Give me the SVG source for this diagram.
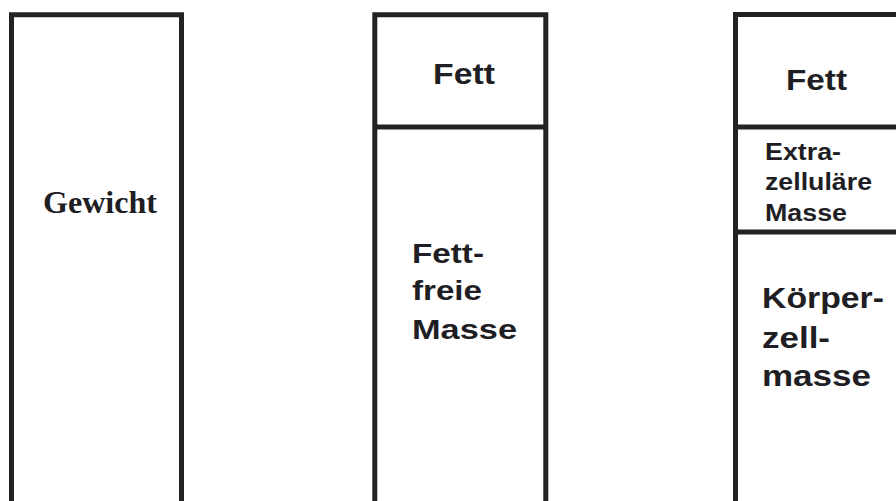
<svg xmlns="http://www.w3.org/2000/svg" width="896" height="501" viewBox="0 0 896 501">
<style>
.box{fill:none;stroke:#222;stroke-width:5;stroke-linejoin:miter}
.sans{font-family:"Liberation Sans",Arial,sans-serif;font-weight:bold;fill:#1e1e24}
.serif{font-family:"Liberation Serif","Times New Roman",serif;font-weight:bold;fill:#1e1e24}
</style>
<rect width="896" height="501" fill="#fff"/>
<g id="gewicht">
<path class="box" d="M11.5,510 V14.8 H181.5 V510"/>
<text class="serif" x="43" y="213" font-size="32" textLength="114" lengthAdjust="spacingAndGlyphs">Gewicht</text>
</g>
<g id="fett-fettfreie">
<path class="box" d="M374.8,510 V14.8 H545.8 V510"/>
<g id="fett1">
<text class="sans" x="433" y="83.5" font-size="30" textLength="62" lengthAdjust="spacingAndGlyphs">Fett</text>
</g>
<g id="fettfreie-masse">
<text class="sans" font-size="28">
<tspan x="412" y="263" textLength="72" lengthAdjust="spacingAndGlyphs">Fett-</tspan>
<tspan x="412" y="300" textLength="70" lengthAdjust="spacingAndGlyphs">freie</tspan>
<tspan x="412" y="339" textLength="105" lengthAdjust="spacingAndGlyphs">Masse</tspan>
</text>
</g>
</g>
<g id="koerperzusammensetzung">
<path class="box" d="M735.5,510 V14.5 H905"/>
<g id="fett2">
<text class="sans" x="786" y="89.5" font-size="30" textLength="61" lengthAdjust="spacingAndGlyphs">Fett</text>
</g>
<g id="extrazellulaere-masse">
<text class="sans" font-size="23">
<tspan x="765" y="160" textLength="76" lengthAdjust="spacingAndGlyphs">Extra-</tspan>
<tspan x="765" y="190" textLength="107" lengthAdjust="spacingAndGlyphs">zelluläre</tspan>
<tspan x="765" y="220.5" textLength="82" lengthAdjust="spacingAndGlyphs">Masse</tspan>
</text>
</g>
<g id="koerperzellmasse">
<text class="sans" font-size="30">
<tspan x="762" y="307.5" textLength="122" lengthAdjust="spacingAndGlyphs">Körper-</tspan>
<tspan x="762" y="347.5" textLength="68" lengthAdjust="spacingAndGlyphs">zell-</tspan>
<tspan x="762" y="386" textLength="109" lengthAdjust="spacingAndGlyphs">masse</tspan>
</text>
</g>
</g>
<g id="connectors">
<path class="box" d="M374.8,127 H545.8"/>
<path class="box" d="M735.5,127 H905"/>
<path class="box" d="M735.5,232 H905"/>
</g>
</svg>
